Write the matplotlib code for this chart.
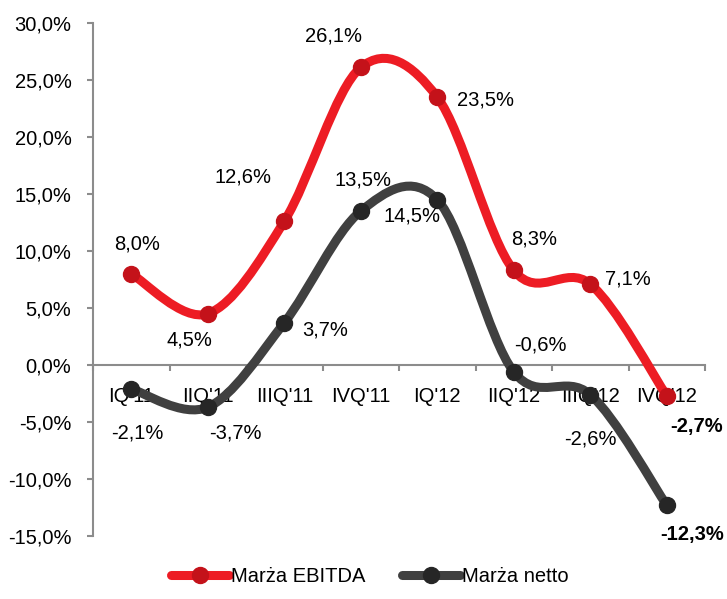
import matplotlib
matplotlib.use("Agg")
import matplotlib.pyplot as plt
import numpy as np
from matplotlib.path import Path
from matplotlib.patches import PathPatch
from matplotlib.lines import Line2D
from matplotlib.ticker import FixedLocator, FuncFormatter

plt.rcParams['font.family'] = ['Liberation Sans', 'DejaVu Sans']

# Data
quarters = ["IQ'11", "IIQ'11", "IIIQ'11", "IVQ'11", "IQ'12", "IIQ'12", "IIIQ'12", "IVQ'12"]
ebitda = [8.0, 4.5, 12.6, 26.1, 23.5, 8.3, 7.1, -2.7]
netto = [-2.1, -3.7, 3.7, 13.5, 14.5, -0.6, -2.6, -12.3]

# label offsets in pixels (dx, dy), y down positive
ebitda_off = [(6, -30), (-18, 26), (-41, -44), (-27, -31), (48, 3), (20, -31), (38, -5), (30, 31)]
netto_off = [(6, 44), (28, 26), (41, 7), (2, -31), (-25, 16), (27, -27), (0, 44), (25, 29)]

red_line, red_mark = '#ED1C24', '#C4121A'
gray_line, gray_mark = '#404040', '#262626'
axis_col = '#8C8C8C'
fs = 14.5


def smooth_path(xs, ys):
    # Catmull-Rom style bezier (like Excel "smoothed line")
    pts = np.column_stack([xs, ys]).astype(float)
    n = len(pts)
    verts = [pts[0]]
    codes = [Path.MOVETO]
    for i in range(n - 1):
        p0 = pts[i - 1] if i > 0 else pts[i]
        p1 = pts[i]
        p2 = pts[i + 1]
        p3 = pts[i + 2] if i + 2 < n else pts[i + 1]
        c1 = p1 + (p2 - p0) / 6.0
        c2 = p2 - (p3 - p1) / 6.0
        verts += [c1, c2, p2]
        codes += [Path.CURVE4] * 3
    return Path(verts, codes)


fig = plt.figure(figsize=(7.27, 5.99), dpi=100)
ax = fig.add_axes([93 / 727, 1 - 536 / 599, 612 / 727, 513 / 599])

x = np.arange(len(quarters))
lw = 6.5
ms = 11.5

for vals, lc, mc, offs in [(ebitda, red_line, red_mark, ebitda_off),
                           (netto, gray_line, gray_mark, netto_off)]:
    patch = PathPatch(smooth_path(x, vals), facecolor='none', edgecolor=lc,
                      lw=lw, capstyle='round', joinstyle='round', clip_on=False, zorder=3)
    ax.add_patch(patch)
    ax.plot(x, vals, 'o', color=mc, ms=ms, mec=mc, clip_on=False, zorder=4)
    for i, v in enumerate(vals):
        dx, dy = offs[i]
        bold = (i == len(vals) - 1)
        ax.annotate(f"{v:.1f}%".replace('.', ','), (x[i], v),
                    xytext=(dx * 0.72, -dy * 0.72), textcoords='offset points',
                    ha='center', va='center', fontsize=fs,
                    fontweight='bold' if bold else 'normal', zorder=5)

ax.set_xlim(-0.5, len(quarters) - 0.5)
ax.set_ylim(-15, 30)

ax.set_yticks(np.arange(-15, 31, 5))
ax.yaxis.set_major_formatter(FuncFormatter(lambda v, p: f"{v:.1f}%".replace('.', ',')))

ax.xaxis.set_major_locator(FixedLocator(x))
ax.set_xticklabels(quarters)
ax.xaxis.set_minor_locator(FixedLocator(np.arange(-0.5, len(quarters), 1.0)))

ax.spines['top'].set_visible(False)
ax.spines['right'].set_visible(False)
ax.spines['bottom'].set_position(('data', 0))
for s in ['left', 'bottom']:
    ax.spines[s].set_color(axis_col)
    ax.spines[s].set_linewidth(1.5)

ax.tick_params(axis='x', which='major', length=0, pad=16, labelsize=fs)
ax.tick_params(axis='x', which='minor', length=4.5, width=1.5, color=axis_col, direction='out')
ax.tick_params(axis='y', length=4.5, width=1.5, color=axis_col, direction='out', pad=11, labelsize=fs)

handles = [Line2D([], [], color=red_line, lw=lw, marker='o', ms=ms, mfc=red_mark, mec=red_mark,
                  solid_capstyle='round'),
           Line2D([], [], color=gray_line, lw=lw, marker='o', ms=ms, mfc=gray_mark, mec=gray_mark,
                  solid_capstyle='round')]
fig.legend(handles, ['Marża EBITDA', 'Marża netto'], loc='center', bbox_to_anchor=(370 / 727, 1 - 577 / 599),
           ncol=2, frameon=False, fontsize=fs, handlelength=2.9, handletextpad=0.1, columnspacing=1.8)

fig.savefig('out.png', dpi=100)
